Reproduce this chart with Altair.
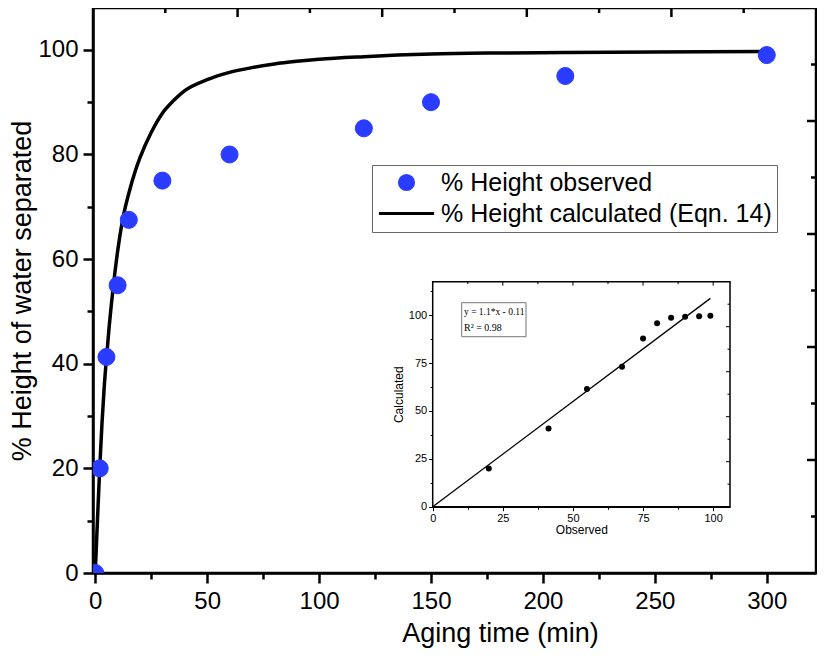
import altair as alt
import pandas as pd

# ---------------- data ----------------
time_obs = [0, 2, 5, 10, 15, 30, 60, 120, 150, 210, 300]
height_obs = [0, 20, 41.3, 55, 67.5, 75, 80, 85, 90, 95, 99]

curve_t = [0, 1, 2, 3, 4, 5, 6, 8, 10, 12, 15, 18, 20, 25, 30, 35, 40, 50, 60, 70, 80,
           90, 100, 120, 150, 180, 210, 250, 300]
curve_h = [0, 10.2, 20.0, 28.5, 35.5, 40.9, 46.0, 54.5, 61.5, 67.0, 72.6, 77.0, 79.4,
           84.2, 87.9, 90.3, 92.2, 94.3, 95.7, 96.6, 97.3, 97.8, 98.2, 98.7, 99.2, 99.4,
           99.5, 99.6, 99.7]

inset_obs = [20, 41.3, 55, 67.5, 75, 80, 85, 90, 95, 99]
inset_calc = [20.0, 40.9, 61.5, 73.1, 87.9, 95.8, 98.7, 99.2, 99.5, 99.7]

fit_x = [0, 99]
fit_y = [0, 108.8]

series_names = ["% Height observed", "% Height calculated (Eqn. 14)"]
fit_text = ["y = 1.1*x - 0.11", "R\u00b2 = 0.98"]

x_ticks_main = [0, 25, 50, 75, 100, 125, 150, 175, 200, 225, 250, 275, 300]
y_ticks_main = [0, 10, 20, 30, 40, 50, 60, 70, 80, 90, 100]
inset_ticks_x = [0, 12.5, 25, 37.5, 50, 62.5, 75, 87.5, 100]
inset_ticks_y = [0, 12.5, 25, 37.5, 50, 62.5, 75, 87.5, 100, 112.5]

# inward ticks on the top / right frame of the main plot (10 equal steps)
frame_major = [2, 4, 6, 8]
frame_minor = [1, 3, 5, 7, 9]
# inward ticks on the top / right frame of the inset
inset_top_major = [25, 50, 75, 100]
inset_top_minor = [12.5, 37.5, 62.5, 87.5]
inset_right_major = [23.5, 47, 70.5, 94]
inset_right_minor = [11.75, 35.25, 58.75, 82.25, 105.75]

# ---------------- tables ----------------
obs_df = pd.DataFrame({"t": time_obs, "h": height_obs, "series": series_names[0]})
calc_df = pd.DataFrame({"t": curve_t, "h": curve_h})
inset_df = pd.DataFrame({"obs": inset_obs, "calc": inset_calc})
fit_df = pd.DataFrame({"obs": fit_x, "calc": fit_y})
one_row = pd.DataFrame({"k": [0]})

FONT = "Liberation Sans"
SERIF = "Liberation Serif"
BLUE = "#2a3cff"

W, H = 723, 565

# ---------------- main chart ----------------
x_main = alt.Scale(domain=[-1, 322], nice=False, zero=False)
y_main = alt.Scale(domain=[0, 108], nice=False, zero=False)

x_axis_main = alt.Axis(
    title="Aging time (min)", values=x_ticks_main,
    labelExpr="datum.value % 50 === 0 ? datum.label : ''",
    tickSize={"condition": {"test": "datum.value % 50 === 0", "value": 10}, "value": 6},
    tickWidth=2.5, domainWidth=2.5, labelFontSize=24, titleFontSize=27,
    labelPadding=6, titlePadding=7, titleX=407, labelFlush=False,
)
y_axis_main = alt.Axis(
    title="% Height of water separated", values=y_ticks_main,
    labelExpr="datum.value % 20 === 0 ? datum.label : ''",
    tickSize={"condition": {"test": "datum.value % 20 === 0", "value": 10}, "value": 6},
    tickWidth=2.5, domainWidth=2.5, labelFontSize=24, titleFontSize=27,
    labelPadding=5, titlePadding=1, labelFlush=False,
)

leg = alt.Legend(
    title=None, orient="none", legendX=279, legendY=157,
    strokeColor="#666666", fillColor="white", padding=5,
    labelFont=FONT, labelFontSize=25, labelColor="black", labelLimit=500,
    symbolSize=200, symbolStrokeWidth=3, symbolOffset=17, labelOffset=22,
    rowPadding=5, symbolOpacity=1,
)
dom = series_names
fill_scale = alt.Scale(domain=dom, range=[BLUE, "transparent"])
stroke_scale = alt.Scale(domain=dom, range=[BLUE, "black"])
shape_scale = alt.Scale(domain=dom, range=["circle", "M-3.9,0L3.9,0"])

curve = alt.Chart(calc_df).mark_line(color="black", strokeWidth=3.5, clip=True,
                                     interpolate="monotone").encode(
    x=alt.X("t:Q", scale=x_main, axis=x_axis_main),
    y=alt.Y("h:Q", scale=y_main, axis=y_axis_main),
)
points = alt.Chart(obs_df).mark_point(filled=True, size=290, opacity=1, strokeWidth=1,
                                      clip=True).encode(
    x=alt.X("t:Q", scale=x_main, axis=x_axis_main),
    y=alt.Y("h:Q", scale=y_main, axis=y_axis_main),
    fill=alt.Fill("series:N", scale=fill_scale, legend=leg),
    stroke=alt.Stroke("series:N", scale=stroke_scale, legend=leg),
    shape=alt.Shape("series:N", scale=shape_scale, legend=leg),
)
main = alt.layer(curve, points)

# ---------------- inward ticks on the main frame ----------------
tick_scale = alt.Scale(domain=[0, 10], nice=False, zero=False)


def top_ticks(vals, length):
    return alt.Chart(pd.DataFrame({"v": vals})).mark_rule(
        color="black", strokeWidth=2.5).encode(
        x=alt.X("v:Q", scale=tick_scale, axis=None),
        y=alt.value(0.5), y2=alt.value(length),
    )


def right_ticks(vals, length):
    return alt.Chart(pd.DataFrame({"v": vals})).mark_rule(
        color="black", strokeWidth=2.5).encode(
        y=alt.Y("v:Q", scale=tick_scale, axis=None),
        x=alt.value(W - length), x2=alt.value(W),
    )


frame_ticks = alt.layer(
    top_ticks(frame_major, 9), top_ticks(frame_minor, 5),
    right_ticks(frame_major, 9), right_ticks(frame_minor, 5),
)

# ---------------- inset ----------------
IX0, IX1 = 339.7, 637.0
IY0, IY1 = 498.7, 273.7
x_in = alt.Scale(domain=[0, 106], range=[IX0, IX1], nice=False, zero=False)
y_in = alt.Scale(domain=[0, 117.5], range=[IY0, IY1], nice=False, zero=False)

x_axis_in = alt.Axis(
    title="Observed", orient="bottom", offset=-(H - IY0), values=inset_ticks_x,
    labelExpr="datum.value % 25 === 0 ? datum.label : ''",
    tickSize={"condition": {"test": "datum.value % 25 === 0", "value": 4}, "value": 2.5},
    tickWidth=1, domainWidth=1.5, labelFontSize=11, titleFontSize=12,
    labelPadding=2, titlePadding=1, labelFlush=False,
)
y_axis_in = alt.Axis(
    title="Calculated", orient="left", offset=-IX0, values=inset_ticks_y,
    labelExpr="datum.value % 25 === 0 ? datum.label : ''",
    tickSize={"condition": {"test": "datum.value % 25 === 0", "value": 4}, "value": 2.5},
    tickWidth=1, domainWidth=1.5, labelFontSize=11, titleFontSize=12,
    labelPadding=2, titlePadding=3, labelFlush=False,
)

frame = alt.Chart(one_row).mark_rect(fill="white", stroke="black", strokeWidth=1.5).encode(
    x=alt.X(datum=0, type="quantitative", scale=x_in, axis=x_axis_in),
    x2=alt.X2(datum=106),
    y=alt.Y(datum=0, type="quantitative", scale=y_in, axis=y_axis_in),
    y2=alt.Y2(datum=117.5),
)


def inset_top(vals, length):
    return alt.Chart(pd.DataFrame({"v": vals})).mark_rule(
        color="black", strokeWidth=1).encode(
        x=alt.X("v:Q", scale=x_in, axis=x_axis_in),
        y=alt.value(IY1), y2=alt.value(IY1 + length),
    )


def inset_right(vals, length):
    return alt.Chart(pd.DataFrame({"v": vals})).mark_rule(
        color="black", strokeWidth=1).encode(
        y=alt.Y("v:Q", scale=y_in, axis=y_axis_in),
        x=alt.value(IX1 - length), x2=alt.value(IX1),
    )


fit_line = alt.Chart(fit_df).mark_line(color="black", strokeWidth=1.3).encode(
    x=alt.X("obs:Q", scale=x_in, axis=x_axis_in),
    y=alt.Y("calc:Q", scale=y_in, axis=y_axis_in),
)
inset_pts = alt.Chart(inset_df).mark_point(filled=True, size=36, color="black",
                                           opacity=1).encode(
    x=alt.X("obs:Q", scale=x_in, axis=x_axis_in),
    y=alt.Y("calc:Q", scale=y_in, axis=y_axis_in),
)
box = alt.Chart(one_row).mark_rect(fill="white", stroke="#777777", strokeWidth=1).encode(
    x=alt.value(368.7), x2=alt.value(433), y=alt.value(294.7), y2=alt.value(328.7),
)
txt1 = alt.Chart(one_row).mark_text(font=SERIF, fontSize=9.5, align="left",
                                    baseline="middle", color="black").encode(
    x=alt.value(371), y=alt.value(304), text=alt.value(fit_text[0]),
)
txt2 = alt.Chart(one_row).mark_text(font=SERIF, fontSize=10, align="left",
                                    baseline="middle", color="black").encode(
    x=alt.value(371), y=alt.value(320), text=alt.value(fit_text[1]),
)
inset = alt.layer(
    frame,
    inset_top(inset_top_major, 4), inset_top(inset_top_minor, 2.5),
    inset_right(inset_right_major, 4), inset_right(inset_right_minor, 2.5),
    fit_line, inset_pts, box, txt1, txt2,
)

chart = alt.layer(main, frame_ticks, inset).resolve_scale(
    x="independent", y="independent"
).properties(
    width=W, height=H,
    padding={"left": 85, "top": 0, "right": 1, "bottom": 86},
    autosize=alt.AutoSizeParams(type="none"),
).configure_view(
    stroke="black", strokeWidth=2.5
).configure_axis(
    labelFont=FONT, titleFont=FONT, labelColor="black", titleColor="black",
    domainColor="black", tickColor="black", grid=False, titleFontWeight="normal",
)

chart.save("out.html", embed_options={"renderer": "svg", "actions": False})
